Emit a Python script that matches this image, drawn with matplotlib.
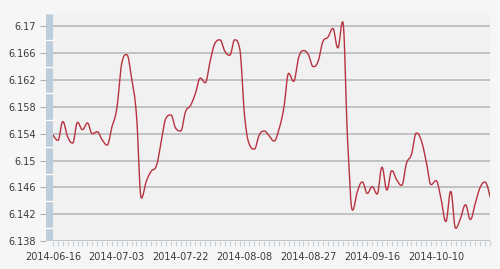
import matplotlib
matplotlib.use("Agg")
import matplotlib.pyplot as plt
import numpy as np

# daily values, one per trading day from 2014-06-16 to 2014-10-27
values = [
    6.1538, 6.1530, 6.1558, 6.1535, 6.1526, 6.1557, 6.1546, 6.1556, 6.1540, 6.1543,
    6.1531, 6.1523, 6.1550, 6.1578, 6.1645, 6.1658, 6.1623, 6.1568, 6.1444, 6.1469,
    6.1484, 6.1491, 6.1526, 6.1563, 6.1568, 6.1548, 6.1544, 6.1573, 6.1582, 6.1600,
    6.1623, 6.1616, 6.1648, 6.1675, 6.1680, 6.1663, 6.1657, 6.1680, 6.1668, 6.1568,
    6.1524, 6.1517, 6.1538, 6.1544, 6.1537, 6.1529, 6.1546, 6.1578, 6.1630, 6.1618,
    6.1653, 6.1664, 6.1658, 6.1640, 6.1648, 6.1678, 6.1684, 6.1697, 6.1668, 6.1707,
    6.1530, 6.1426, 6.1454, 6.1468, 6.1451, 6.1461, 6.1450, 6.1490, 6.1456, 6.1485,
    6.1471, 6.1463, 6.1496, 6.1509, 6.1541, 6.1530, 6.1499, 6.1464, 6.1470, 6.1444,
    6.1409, 6.1454, 6.1399, 6.1414, 6.1434, 6.1412, 6.1436, 6.1460, 6.1468, 6.1446,
]
label_pos = [0, 13, 26, 39, 52, 65, 78]
labels = ['2014-06-16', '2014-07-03', '2014-07-22', '2014-08-08',
          '2014-08-27', '2014-09-16', '2014-10-10']
yticks = [6.138, 6.142, 6.146, 6.15, 6.154, 6.158, 6.162, 6.166, 6.17]


def spline(xs, ys, smoothing=1.5):
    """Highcharts-like spline through the points, returned as dense arrays."""
    denom = smoothing + 1
    n = len(xs)
    left = [(xs[i], ys[i]) for i in range(n)]
    right = list(left)
    for i in range(1, n - 1):
        x, y = xs[i], ys[i]
        lx, ly = xs[i - 1], ys[i - 1]
        nx, ny = xs[i + 1], ys[i + 1]
        lcx, lcy = (smoothing * x + lx) / denom, (smoothing * y + ly) / denom
        rcx, rcy = (smoothing * x + nx) / denom, (smoothing * y + ny) / denom
        corr = (rcy - lcy) * (rcx - x) / (rcx - lcx) + y - rcy
        lcy += corr
        rcy += corr
        if lcy > ly and lcy > y:
            lcy = max(ly, y); rcy = 2 * y - lcy
        elif lcy < ly and lcy < y:
            lcy = min(ly, y); rcy = 2 * y - lcy
        if rcy > ny and rcy > y:
            rcy = max(ny, y); lcy = 2 * y - rcy
        elif rcy < ny and rcy < y:
            rcy = min(ny, y); lcy = 2 * y - rcy
        left[i] = (lcx, lcy)
        right[i] = (rcx, rcy)
    t = np.linspace(0, 1, 24)[:, None]
    out = []
    for i in range(1, n):
        p0 = np.array([xs[i - 1], ys[i - 1]])
        p1 = np.array(right[i - 1])
        p2 = np.array(left[i])
        p3 = np.array([xs[i], ys[i]])
        seg = ((1 - t) ** 3) * p0 + 3 * ((1 - t) ** 2) * t * p1 + 3 * (1 - t) * t ** 2 * p2 + t ** 3 * p3
        out.append(seg if i == 1 else seg[1:])
    pts = np.vstack(out)
    return pts[:, 0], pts[:, 1]


xs = np.arange(len(values))
sx, sy = spline(list(xs), values)

fig = plt.figure(figsize=(5, 2.69), dpi=100, facecolor='#f6f6f6')
W, H = 500, 269
ax = fig.add_axes([53 / W, 1 - 241 / H, 437 / W, 228 / H])
ax.set_facecolor('#f1f1f1')
ax.set_xlim(0, len(values) - 1)
ax.set_ylim(6.138, 6.172)

for v in yticks:
    ax.axhline(v, color='#b4b4b4', lw=1.1, zorder=1)
ax.plot(sx, sy, color='#b8323f', lw=1.0, zorder=3, solid_capstyle='round')

for s in ax.spines.values():
    s.set_visible(False)
ax.set_yticks(yticks)
ax.tick_params(axis='y', left=False, labelleft=False)
ax.set_xticks(xs, minor=True)
ax.set_xticks(label_pos)
ax.set_xticklabels(labels)
ax.tick_params(axis='x', which='both', direction='out', length=3.6, width=0.8,
               color='#c3d1de', labelsize=7, labelcolor='#3a3a3a', pad=4)

# left axis bar with tick labels
bar = fig.add_axes([45.5 / W, 1 - 241 / H, 7.5 / W, 228 / H])
bar.set_facecolor('#bccddc')
bar.set_xlim(0, 1)
bar.set_ylim(6.138, 6.172)
for s in bar.spines.values():
    s.set_visible(False)
bar.set_xticks([])
for v in np.arange(6.140, 6.172, 0.004):
    bar.axhline(v, color='white', lw=1.0)
bar.set_yticks(yticks)
bar.set_yticklabels(['{:g}'.format(v) for v in yticks])
bar.tick_params(axis='y', direction='out', length=4.5, width=0.8, color='#b0b0b0',
                labelsize=7, labelcolor='#3a3a3a', pad=2.5)

fig.savefig('out.png', dpi=100, facecolor=fig.get_facecolor())
